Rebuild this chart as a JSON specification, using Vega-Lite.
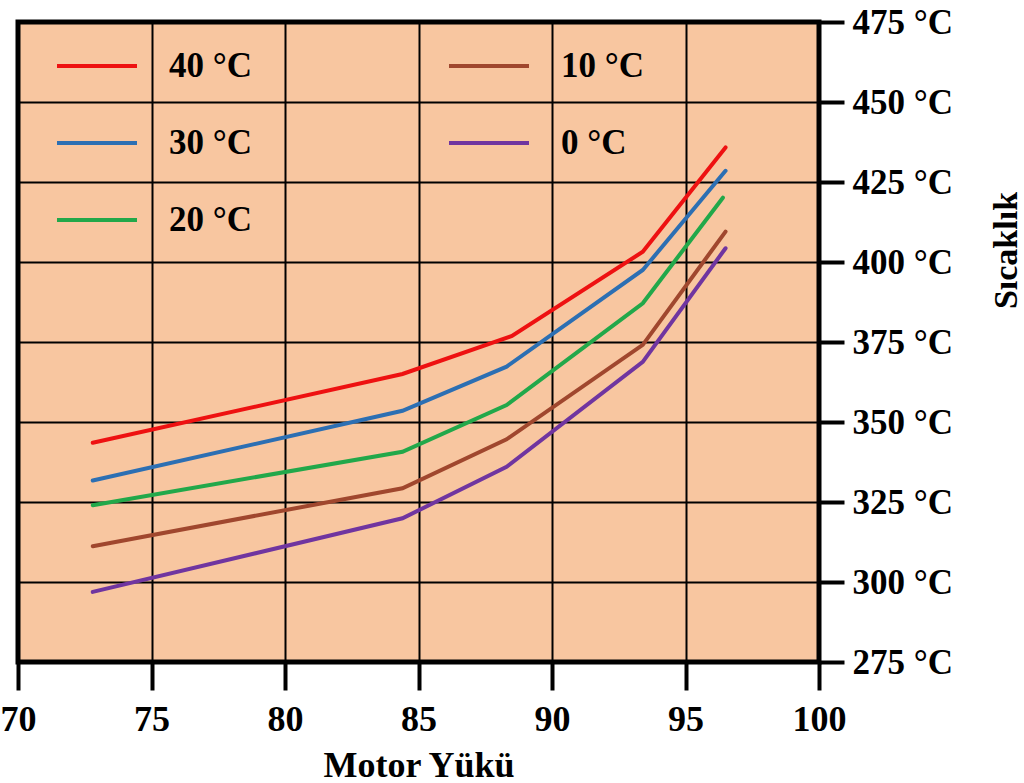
{
  "$schema": "https://vega.github.io/schema/vega-lite/v6.json",
  "width": 801,
  "height": 640,
  "autosize": {"type": "none"},
  "padding": {"left": 18, "top": 22, "right": 205, "bottom": 121},
  "background": "white",
  "config": {
    "view": {"fill": "#F8C6A0", "stroke": "#000000", "strokeWidth": 5},
    "font": "Liberation Serif"
  },
  "data": {
    "values": [
      {"seri": "40 °C", "yuk": 72.8, "sicaklik": 343.5},
      {"seri": "40 °C", "yuk": 84.4, "sicaklik": 365.0},
      {"seri": "40 °C", "yuk": 88.5, "sicaklik": 376.9},
      {"seri": "40 °C", "yuk": 93.4, "sicaklik": 403.2},
      {"seri": "40 °C", "yuk": 96.5, "sicaklik": 435.8},
      {"seri": "30 °C", "yuk": 72.8, "sicaklik": 331.7},
      {"seri": "30 °C", "yuk": 84.4, "sicaklik": 353.5},
      {"seri": "30 °C", "yuk": 88.3, "sicaklik": 367.3},
      {"seri": "30 °C", "yuk": 93.4, "sicaklik": 397.5},
      {"seri": "30 °C", "yuk": 96.5, "sicaklik": 428.5},
      {"seri": "20 °C", "yuk": 72.8, "sicaklik": 324.0},
      {"seri": "20 °C", "yuk": 84.4, "sicaklik": 340.7},
      {"seri": "20 °C", "yuk": 88.3, "sicaklik": 355.3},
      {"seri": "20 °C", "yuk": 93.4, "sicaklik": 387.1},
      {"seri": "20 °C", "yuk": 96.4, "sicaklik": 420.1},
      {"seri": "10 °C", "yuk": 72.8, "sicaklik": 311.2},
      {"seri": "10 °C", "yuk": 84.4, "sicaklik": 329.3},
      {"seri": "10 °C", "yuk": 88.3, "sicaklik": 344.6},
      {"seri": "10 °C", "yuk": 93.4, "sicaklik": 374.1},
      {"seri": "10 °C", "yuk": 96.5, "sicaklik": 409.5},
      {"seri": "0 °C", "yuk": 72.8, "sicaklik": 296.9},
      {"seri": "0 °C", "yuk": 84.4, "sicaklik": 319.9},
      {"seri": "0 °C", "yuk": 88.3, "sicaklik": 336.0},
      {"seri": "0 °C", "yuk": 93.4, "sicaklik": 368.8},
      {"seri": "0 °C", "yuk": 96.5, "sicaklik": 404.3}
    ]
  },
  "mark": {"type": "line", "strokeWidth": 4, "strokeCap": "round"},
  "encoding": {
    "x": {
      "field": "yuk",
      "type": "quantitative",
      "scale": {"domain": [70, 100], "nice": false, "zero": false},
      "axis": {
        "title": "Motor Yükü",
        "values": [70, 75, 80, 85, 90, 95, 100],
        "grid": true,
        "gridColor": "#000000",
        "gridWidth": 2,
        "gridOpacity": 1,
        "domain": false,
        "tickColor": "#000000",
        "tickWidth": 4,
        "tickSize": 28,
        "labelFont": "Liberation Serif",
        "labelFontWeight": "bold",
        "labelFontSize": 36,
        "labelColor": "#000000",
        "labelPadding": 12,
        "labelFlush": false,
        "labelOverlap": false,
        "titleFont": "Liberation Serif",
        "titleFontWeight": "bold",
        "titleFontSize": 36,
        "titleColor": "#000000",
        "titlePadding": 11
      }
    },
    "y": {
      "field": "sicaklik",
      "type": "quantitative",
      "scale": {"domain": [275, 475], "nice": false, "zero": false},
      "axis": {
        "orient": "right",
        "title": "Sıcaklık",
        "values": [275, 300, 325, 350, 375, 400, 425, 450, 475],
        "labelExpr": "datum.value + ' °C'",
        "grid": true,
        "gridColor": "#000000",
        "gridWidth": 2,
        "gridOpacity": 1,
        "domain": false,
        "tickColor": "#000000",
        "tickWidth": 4,
        "tickSize": 25,
        "labelFont": "Liberation Serif",
        "labelFontWeight": "bold",
        "labelFontSize": 35,
        "labelColor": "#000000",
        "labelPadding": 8,
        "labelFlush": false,
        "labelOverlap": false,
        "titleFont": "Liberation Serif",
        "titleFontWeight": "bold",
        "titleFontSize": 34,
        "titleColor": "#000000",
        "titleAngle": 270,
        "titleX": 187,
        "titleY": 228,
        "titleAlign": "center",
        "titleBaseline": "middle"
      }
    },
    "color": {
      "field": "seri",
      "type": "nominal",
      "scale": {
        "domain": ["40 °C", "30 °C", "20 °C", "10 °C", "0 °C"],
        "range": ["#EE1111", "#2C6FB3", "#22A84A", "#A0472E", "#7035A0"]
      },
      "legend": {
        "title": null,
        "orient": "none",
        "legendX": 37,
        "legendY": 2,
        "columns": 2,
        "padding": 0,
        "symbolType": "stroke",
        "symbolSize": 6400,
        "symbolStrokeWidth": 4,
        "labelFont": "Liberation Serif",
        "labelFontWeight": "bold",
        "labelFontSize": 35,
        "labelColor": "#000000",
        "labelOffset": 30,
        "columnPadding": 188,
        "rowPadding": 17
      }
    }
  }
}
